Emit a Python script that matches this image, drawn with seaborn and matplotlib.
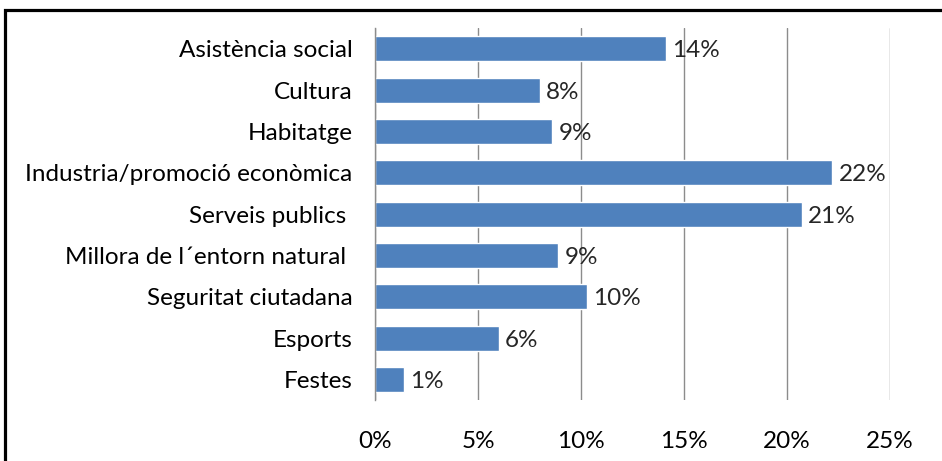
import pandas as pd
import matplotlib.pyplot as plt
import seaborn as sns
from matplotlib.patches import Rectangle
from matplotlib.ticker import FuncFormatter

# dades
categories = ['Asistència social', 'Cultura', 'Habitatge', 'Industria/promoció econòmica',
              'Serveis publics ', 'Millora de l´entorn natural ', 'Seguritat ciutadana',
              'Esports', 'Festes']
valors = [14.1, 8.0, 8.6, 22.2, 20.7, 8.9, 10.3, 6.0, 1.4]
ticks_x = [0, 5, 10, 15, 20, 25]

df = pd.DataFrame({'categoria': categories, 'valor': valors})

sns.set_style("white")
plt.rcParams['font.family'] = ['Lato', 'DejaVu Sans']

fig = plt.figure(figsize=(9.42, 4.61), dpi=100)
ax = fig.add_axes([0.398, 0.132, 0.547, 0.807])

sns.barplot(data=df, y='categoria', x='valor', color='#4F81BD', saturation=1,
            width=0.6, orient='h', ax=ax)

ax.set_xlim(0, 25)
ax.set_ylim(len(categories) - 0.5, -0.5)
ax.set_xticks(ticks_x)
ax.xaxis.set_major_formatter(FuncFormatter(lambda v, p: f'{v:.0f}%'))
ax.grid(axis='x', color='#8c8c8c', linewidth=1)
ax.set_axisbelow(True)
for s in ['top', 'right', 'bottom']:
    ax.spines[s].set_visible(False)
ax.spines['left'].set_color('#8c8c8c')
ax.spines['left'].set_linewidth(1)
ax.tick_params(axis='y', length=0, pad=16, labelsize=17.5, labelcolor='black')
ax.tick_params(axis='x', length=0, pad=22, labelsize=17.5, labelcolor='black')
ax.set_xlabel('')
ax.set_ylabel('')

# etiquetes de valor
for i, v in enumerate(valors):
    ax.text(v + 0.3, i + 0.05, f'{v:.0f}%', va='center', ha='left', fontsize=17.5)

# marc
fig.patches.append(Rectangle((0.005, -0.1), 1.1, 1.078, transform=fig.transFigure,
                             fill=False, edgecolor='black', linewidth=2.3))

plt.savefig('out.png', dpi=100)
